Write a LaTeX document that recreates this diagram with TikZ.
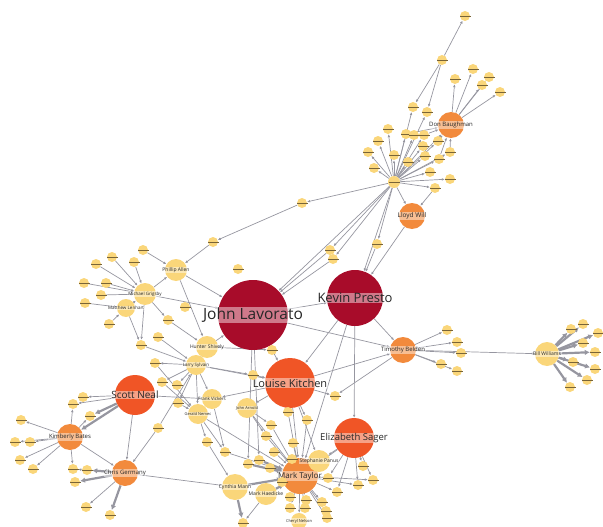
\documentclass[tikz,border=0pt]{standalone}
\usepackage{fontspec}
\setmainfont{Open Sans}
\usetikzlibrary{arrows.meta, backgrounds}

\definecolor{jlred}{RGB}{168,12,42}
\definecolor{hotorange}{RGB}{240,85,38}
\definecolor{midorange}{RGB}{242,138,60}
\definecolor{leafyellow}{RGB}{250,214,122}
\definecolor{barbrown}{RGB}{120,100,55}
\definecolor{linkgray}{RGB}{150,150,160}

\tikzset{
  person/.style={circle, inner sep=0pt, fill=#1},
  leafbar/.style={fill=barbrown, minimum width=11pt, minimum height=.8pt, inner sep=0pt},
  leaf/.style={person=leafyellow, minimum size=10pt, label={[leafbar]center:}},
  tag/.style={font=\fontsize{#1}{#1}\selectfont, fill=white, fill opacity=.45,
    text opacity=1, text=black!85, inner sep=.6pt},
  link/.style={draw=linkgray, line width=.7pt, -{Latex[length=3pt,width=2.6pt]}},
  heavy/.style={link, line width=2.2pt, -{Latex[length=5pt,width=5.5pt]}}
}

\begin{document}
\begin{tikzpicture}[x=1pt, y=-1pt]
  \useasboundingbox (0,0) rectangle (603,527);

  % Define the main people
  \node[person=jlred, minimum size=70pt, label={[tag=15.5]center:John Lavorato}] (jl) at (253,315) {};
  \node[person=jlred, minimum size=56pt, label={[tag=13]center:Kevin Presto}] (kp) at (355,298) {};
  \node[person=hotorange, minimum size=50pt, label={[tag=11]center:Louise Kitchen}] (lk) at (290,383) {};
  \node[person=hotorange, minimum size=40pt, label={[tag=10]center:Scott Neal}] (sn) at (135,395) {};
  \node[person=hotorange, minimum size=40pt, label={[tag=9.5]center:Elizabeth Sager}] (es) at (354,438) {};
  \node[person=midorange, minimum size=36pt, label={[tag=8]center:Mark Taylor}] (mt) at (300,476) {};
  \node[person=midorange, minimum size=26pt, label={[tag=6]center:Don Baughman}] (db) at (451,125) {};
  \node[person=midorange, minimum size=26pt, label={[tag=6.5]center:Lloyd Will}] (lw) at (412,216) {};
  \node[person=midorange, minimum size=26pt, label={[tag=6]center:Timothy Belden}] (tb) at (403,350) {};
  \node[person=midorange, minimum size=26pt, label={[tag=6]center:Kimberly Bates}] (kb) at (70,437) {};
  \node[person=midorange, minimum size=26pt, label={[tag=6]center:Chris Germany}] (cg) at (125,473) {};

  % Named yellow people
  \node[person=leafyellow, minimum size=22pt, label={[tag=5]center:Phillip Allen}] (pa) at (176,270) {};
  \node[person=leafyellow, minimum size=22pt, label={[tag=4.5]center:Michael Grigsby}] (mg) at (145,294) {};
  \node[person=leafyellow, minimum size=18pt, label={[tag=4.5]center:Matthew Lenhart}] (ml) at (126,308) {};
  \node[person=leafyellow, minimum size=22pt, label={[tag=5]center:Hunter Shively}] (hs) at (207,347) {};
  \node[person=leafyellow, minimum size=20pt, label={[tag=4.5]center:Larry Sylvain}] (ls) at (196,365) {};
  \node[person=leafyellow, minimum size=20pt, label={[tag=4.5]center:Frank Vickers}] (fv) at (212,399) {};
  \node[person=leafyellow, minimum size=20pt, label={[tag=4]center:Gerald Nemec}] (gn) at (198,414) {};
  \node[person=leafyellow, minimum size=20pt, label={[tag=4]center:John Arnold}] (ja) at (247,408) {};
  \node[person=leafyellow, minimum size=22pt, label={[tag=5]center:Stephanie Panus}] (sp) at (319,461) {};
  \node[person=leafyellow, minimum size=26pt, label={[tag=5]center:Cynthia Mann}] (cmn) at (235,487) {};
  \node[person=leafyellow, minimum size=22pt, label={[tag=5]center:Mark Haedicke}] (mh) at (266,494) {};
  \node[person=leafyellow, minimum size=16pt, label={[tag=4]center:Cheryl Nelson}] (cn) at (299,521) {};
  \node[person=leafyellow, minimum size=24pt, label={[tag=5]center:Bill Williams}] (bw) at (547,354) {};
  \node[leaf, minimum size=12pt] (h) at (394,182) {};

  % Define the small leaves
  \foreach \n/\p in {d1/{465,16}, d2/{442,60}, d3/{455,79}, d4/{473,69}, d5/{489,77},
      d6/{482,85}, d7/{500,92}, d8/{413,107}, d9/{427,112}, d10/{388,129}, d11/{378,141},
      d12/{368,152}, d13/{374,168}, d14/{394,155}, d15/{406,134}, d16/{414,135},
      d17/{424,135}, d18/{423,146}, d19/{438,141}, d20/{450,152}, d21/{425,156},
      d22/{439,159}, d23/{408,162}, d24/{430,172}, d25/{450,179}, d26/{435,188},
      l1/{330,250}, l2/{333,259}, l3/{377,244}, l4/{238,269}, m1/{302,203}, m2/{213,242},
      p1/{143,250}, p2/{112,257}, p3/{96,264}, p4/{134,262}, p5/{84,283}, p6/{106,283},
      p7/{101,295}, p8/{85,303}, p9/{109,324}, p10/{185,307}, p11/{168,320},
      p12/{158,337}, p13/{141,345},
      c1/{155,363}, c2/{162,382}, c3/{177,385}, c4/{253,375}, c5/{272,350},
      c6/{178,403}, c7/{158,428},
      e1/{335,396}, e2/{288,412}, e3/{307,420}, e4/{271,425}, e5/{266,436},
      e6/{207,442}, e7/{225,452}, e8/{293,443}, e9/{274,452}, e10/{259,460},
      e11/{248,464}, e12/{270,468}, e13/{363,466}, e14/{358,485}, e15/{373,480},
      e16/{292,459}, e17/{282,482}, e18/{290,497}, e19/{306,500}, e20/{322,502},
      e21/{326,511}, e22/{305,508}, e23/{290,508}, e24/{337,492}, e25/{328,478},
      e27/{243,523}, e28/{327,518},
      k1/{83,397}, k2/{73,404}, k3/{90,416}, k4/{21,420}, k5/{30,442}, k6/{15,442},
      k7/{20,460}, k8/{33,469}, k9/{73,469}, k10/{87,470}, k11/{75,482},
      k12/{86,507}, k13/{110,515},
      b1/{447,330}, b2/{457,342}, b3/{461,353}, b4/{441,364}, b5/{457,371},
      w1/{583,324}, w2/{571,329}, w3/{598,333}, w4/{583,343}, w5/{595,352},
      w6/{573,362}, w7/{595,369}, w8/{587,380}, w9/{570,387}}
    \node[leaf] (\n) at (\p) {};

  % Define the links
  \begin{scope}[on background layer]
    \foreach \a/\b in {d2/d1, d2/d8, d2/d9, db/d3, db/d4, db/d5, db/d6, db/d7, h/db,
        h/d8, h/d9, h/d10, h/d11, h/d12, h/d13, h/d14, h/d15, h/d16, h/d17, h/d18,
        h/d19, h/d20, h/d21, h/d22, h/d23, h/d24, h/d25, h/d26,
        d15/db, d17/db, d19/db, d22/db, d20/db, d26/lw,
        h/lw, h/jl, h/kp, h/l1, h/l2, h/l3, h/m1, m1/m2, m2/pa,
        l1/jl, l2/jl, l3/kp, lw/kp,
        p1/pa, p2/mg, p3/mg, p4/mg, p5/mg, p6/mg, p7/mg, p8/ml, p9/ml, mg/pa, ml/mg,
        pa/jl, mg/jl, mg/p11, p11/hs, ml/p13, mg/p13, p12/ls, p13/ls, pa/hs, hs/jl,
        hs/c5, ls/c1, ls/c2, ls/c3, ls/c6, ls/gn, ls/fv, ls/c4, hs/ls, c4/lk, ls/lk,
        c1/gn, c2/gn, c6/gn, c7/ls, c7/cg,
        jl/kp, jl/tb, kp/tb, lk/tb, kp/lk, kp/es, kp/mt, jl/lk, jl/e10, jl/e11, jl/c5,
        lk/e1, tb/e1, lk/ja, lk/fv, lk/e2, lk/e3, lk/mt, lk/sp, sn/fv,
        ja/e4, ja/e5, ja/mt, e4/mt, e5/mt, e2/mt, e3/mt, e8/mt, e9/mt,
        gn/e6, gn/e7, gn/mt, fv/e7, e6/cmn, e7/mt,
        es/e13, es/e14, es/e15, es/mt, es/sp, es/e25, es/e24,
        mt/sp, mt/e16, mt/e17, mt/e18, mt/e19, mt/e20, mt/e21, mt/e22, mt/e23,
        mt/e24, mt/e25, mt/e14, mt/cn, mt/e28, mt/e15, mh/e27, cg/cmn,
        sn/k1, sn/k2, sn/cg, kb/k2, kb/k4, kb/k5, kb/k6, kb/k7, kb/k8, kb/k9,
        kb/cg, kb/k3, cg/k9, cg/k12,
        tb/b1, tb/b2, tb/b3, tb/b4, tb/b5, tb/bw}
      \draw[link] (\a) -- (\b);
    \foreach \a/\b in {cmn/mt, mh/mt, e10/mt, e11/mt, e12/mt, cmn/e27,
        sn/kb, sn/k3, cg/k10, cg/k11, cg/k13,
        bw/w1, bw/w2, bw/w3, bw/w4, bw/w5, bw/w6, bw/w7, bw/w8, bw/w9}
      \draw[heavy] (\a) -- (\b);
  \end{scope}
\end{tikzpicture}
\end{document}
